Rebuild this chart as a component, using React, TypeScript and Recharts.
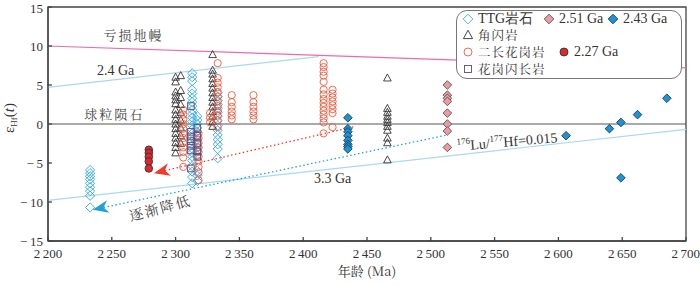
import { ScatterChart, Scatter, XAxis, YAxis, ReferenceLine, ReferenceArea, ReferenceDot, Label } from 'recharts'

// ---- data (age in Ma, εHf(t)) ----
const X_TICKS = [2200, 2250, 2300, 2350, 2400, 2450, 2500, 2550, 2600, 2650, 2700]
const Y_TICKS = [-15, -10, -5, 0, 5, 10, 15]

// TTG rocks (open blue diamonds)
const TTG_2233 = [-5.9, -6.3, -6.7, -7.1, -7.6, -8.1, -8.6, -9.2, -10.7]
const TTG_2313 = [6.5, 6.0, 5.5, 4.4, 3.9, 3.3, 2.8, 2.3, 1.8, 1.3, 0.8, 0.3, -0.2, -0.7, -1.2, -1.7, -2.2, -2.7, -3.2, -3.7, -4.2, -4.7, -5.4, -6.1, -6.8, -7.6]
const TTG_2317 = [1.0, 0.5, 0, -0.5, -1.0, -1.5, -2.0, -2.5, -3.0, -3.5, -4.0, -6.0, -6.6, -7.3]
const TTG_2333 = [4.0, 3.5, 3.0, 2.5, 2.0, 1.5, 1.0, 0.4, -0.2, -0.8, -1.4, -2.0, -2.6, -3.2, -4.4]

// amphibolite (open triangles)
const AMP_2300 = [6.0, 5.4, 4.1, 3.6, 3.1, 2.6, 1.8, 1.2, 0.6, 0, -0.6, -1.2, -1.8, -2.4, -3.0, -3.7]
const AMP_2304 = [6.2, 4.3, 3.4, 2.5, 1.5, 0.5, -0.5, -1.5, -2.5]
const AMP_2329 = [8.9, 6.9, 6.4, 5.8, 5.2, 4.6, 4.0, 3.4, 2.8, 2.2, 1.6, 1.0, 0.3, -0.3]
const AMP_2466 = [5.9, 2.0, 1.5, 1.0, 0.6, 0.2, -0.3, -0.8, -1.8, -2.4, -4.6]

// monzogranite (open red circles)
const MZG_2306 = [1.8, 1.2, 0.6, 0, -0.6, -1.2, -1.8, -2.4, -3.0, -3.6, -4.3, -5.5]
const MZG_2318 = [-1.2, -1.8, -2.4, -3.0, -3.6, -4.2, -4.8, -5.5, -6.2, -7.2]
const MZG_2327 = [1.4, 0.8, 0.2]
const MZG_2333 = [7.8, 5.9, 5.3, 4.7, 4.1, 3.5, 2.9, 2.3, 1.7, 1.1, 0.5, -0.4]
const MZG_2344 = [3.7, 2.8, 2.2, 1.6, 1.1, 0.6]
const MZG_2361 = [3.7, 2.8, 2.2, 1.6, 1.1, 0.6]
const MZG_2416 = [7.8, 7.3, 6.7, 6.2, 5.4, 4.4, 3.8, 3.2, 2.7, 2.2, 1.7, 1.2, 0.7, 0.2, -1.2]
const MZG_2423 = [4.4, 3.9, 3.4, 2.9, 2.4, 1.9, 1.4, -0.4]

// granodiorite (open squares)
const GD_2312 = [2.3, -1.0, -1.6, -2.2, -2.8, -3.4, -5.7]
const GD_2317 = [-0.5, -1.5, -2.5, -3.5, -4.2]

// dated samples (filled)
const S227_2279 = [-3.3, -3.7, -4.2, -4.8, -5.7]
const S251_2513 = [5.0, 3.7, 3.3, 2.9, 1.4, 0.0, -0.9, -3.0]
const S243_2435 = [0.8, -0.6, -1.0, -1.5, -2.1, -2.6, -2.9, -3.2]
const S243_AGES = [2606, 2640, 2649, 2649, 2662, 2685]
const S243_VALS = [-1.5, -0.6, 0.2, -6.9, 1.2, 3.3]

// reference lines
const DM_LINE = [{ age: 2200, e: 10 }, { age: 2700, e: 7.2 }]
const GA24_LINE = [{ age: 2200, e: 4.7 }, { age: 2412, e: 8.65 }]
const GA33_LINE = [{ age: 2200, e: -9.8 }, { age: 2700, e: -0.7 }]
const RED_TREND = [{ age: 2283, e: -6.3 }, { age: 2441, e: -0.3 }]
const BLUE_TREND = [{ age: 2235, e: -11.0 }, { age: 2513, e: -1.4 }]

const col = (age: number, vals: number[]) => vals.map((e) => ({ age, e }))

const TTG = [...col(2233, TTG_2233), ...col(2313, TTG_2313), ...col(2317, TTG_2317), ...col(2333, TTG_2333)]
const AMP = [...col(2300, AMP_2300), ...col(2304, AMP_2304), ...col(2329, AMP_2329), ...col(2466, AMP_2466)]
const MZG = [
  ...col(2306, MZG_2306), ...col(2318, MZG_2318), ...col(2327, MZG_2327), ...col(2333, MZG_2333),
  ...col(2344, MZG_2344), ...col(2361, MZG_2361), ...col(2416, MZG_2416), ...col(2423, MZG_2423),
]
const GD = [...col(2312, GD_2312), ...col(2317, GD_2317)]
const S227 = col(2279, S227_2279)
const S251 = col(2513, S251_2513)
const S243 = [...col(2435, S243_2435), ...S243_AGES.map((age, i) => ({ age, e: S243_VALS[i] }))]

const SERIF = "'Liberation Serif', 'Times New Roman', serif"
const CJK = "'Noto Serif CJK SC', 'Noto Sans CJK SC', serif"

const C_TTG = '#2fa8e0'
const C_MZG = '#ee5a3c'
const C_GD = '#5b4a80'
const C_LINE_BLUE = '#a9d8f2'

type Kind = 'diamond' | 'triangle' | 'circle' | 'square'

function mark(kind: Kind, stroke: string, fill: string, s: number) {
  return (p: any) => {
    const { cx, cy } = p
    if (cx == null || cy == null) return <g />
    const common = { stroke, fill, strokeWidth: 0.9 }
    if (kind === 'diamond')
      return <polygon {...common} points={`${cx},${cy - s} ${cx + s},${cy} ${cx},${cy + s} ${cx - s},${cy}`} />
    if (kind === 'triangle')
      return <polygon {...common} points={`${cx},${cy - s} ${cx + s * 0.95},${cy + s * 0.75} ${cx - s * 0.95},${cy + s * 0.75}`} />
    if (kind === 'square') return <rect {...common} x={cx - s} y={cy - s} width={2 * s} height={2 * s} />
    return <circle {...common} cx={cx} cy={cy} r={s} />
  }
}

// dotted trend line with an arrow head at its first point
function arrowLine(color: string) {
  return (p: any) => {
    const { x1, y1, x2, y2 } = p
    if (x1 == null) return <g />
    const a = Math.atan2(y1 - y2, x1 - x2)
    const L = 16
    const W = 6.5
    const bx = x1 - L * Math.cos(a)
    const by = y1 - L * Math.sin(a)
    const nx = x1 - L * 0.7 * Math.cos(a)
    const ny = y1 - L * 0.7 * Math.sin(a)
    const px = -Math.sin(a) * W
    const py = Math.cos(a) * W
    return (
      <g>
        <line x1={nx} y1={ny} x2={x2} y2={y2} stroke={color} strokeWidth={1.3} strokeDasharray="1.5 2.5" />
        <polygon points={`${x1},${y1} ${bx + px},${by + py} ${nx},${ny} ${bx - px},${by - py}`} fill={color} />
      </g>
    )
  }
}

function note(content: (x: number, y: number) => any) {
  return (p: any) => (p.cx == null ? <g /> : content(p.cx, p.cy))
}

const annStyle = { fontSize: 13, fill: '#444' }

function YLabel(props: any) {
  const vb = props.viewBox || { x: 0, y: 0, height: 0 }
  const x = 14
  const y = vb.y + vb.height / 2 - 6
  return (
    <text transform={`translate(${x},${y}) rotate(-90)`} textAnchor="middle" fontFamily={SERIF} fontSize={15} fill="#333">
      ε<tspan fontSize={9} dy={3}>Hf</tspan>
      <tspan dy={-3}>(</tspan>
      <tspan fontStyle="italic">t</tspan>
      <tspan>)</tspan>
    </text>
  )
}

const fmtX = (v: number) => `${Math.floor(v / 1000)}\u2009${String(v % 1000).padStart(3, '0')}`
const fmtY = (v: number) => (v < 0 ? `\u2212\u2009${-v}` : `${v}`)

function Sym({ kind, stroke, fill }: { kind: Kind; stroke: string; fill: string }) {
  return (
    <svg width={12} height={12} style={{ display: 'block' }}>
      {mark(kind, stroke, fill, kind === 'circle' ? 4 : kind === 'square' ? 3.5 : 4.8)({ cx: 6, cy: 6 })}
    </svg>
  )
}

function LegendItem({ left, top, kind, stroke, fill, text, cjk }: any) {
  return (
    <div style={{ position: 'absolute', left, top, height: 14, display: 'flex', alignItems: 'center', gap: 4 }}>
      <Sym kind={kind} stroke={stroke} fill={fill} />
      <span style={{ fontFamily: cjk ? CJK : SERIF, fontSize: cjk ? 12.5 : 14, color: '#333', letterSpacing: cjk ? 1 : 0, whiteSpace: 'nowrap', lineHeight: '14px' }}>
        {text}
      </span>
    </div>
  )
}

export default function App() {
  return (
    <div style={{ position: 'relative', width: 700, height: 285, background: '#fff' }}>
      <style>{'body{margin:0}'}</style>
      <ScatterChart width={700} height={285} margin={{ top: 7, right: 14, bottom: 14, left: 0 }}>
        <XAxis
          type="number"
          dataKey="age"
          domain={[2200, 2700]}
          ticks={X_TICKS}
          tickFormatter={fmtX}
          tickSize={-4}
          tickMargin={12}
          height={30}
          allowDataOverflow
          tick={{ fontSize: 13, fill: '#333', fontFamily: SERIF }}
          stroke="#444"
          strokeWidth={1.3}
        >
          <Label value="年龄 (Ma)" position="bottom" offset={-4} style={{ fontSize: 13, fill: '#333', fontFamily: CJK }} />
        </XAxis>
        <YAxis
          type="number"
          dataKey="e"
          domain={[-15, 15]}
          ticks={Y_TICKS}
          tickFormatter={fmtY}
          tickSize={-4}
          tickMargin={9}
          width={48}
          allowDataOverflow
          tick={{ fontSize: 13, fill: '#333', fontFamily: SERIF }}
          stroke="#444"
          strokeWidth={1.3}
        >
          <Label content={<YLabel />} />
        </YAxis>
        <ReferenceArea x1={2200} x2={2700} y1={-15} y2={15} fill="none" stroke="#444" strokeWidth={1.3} />

        <ReferenceLine y={0} stroke="#555" strokeWidth={1} />
        <ReferenceLine segment={[{ x: DM_LINE[0].age, y: DM_LINE[0].e }, { x: DM_LINE[1].age, y: DM_LINE[1].e }]} stroke="#ef6aa5" strokeWidth={1.2} />
        <ReferenceLine segment={[{ x: GA24_LINE[0].age, y: GA24_LINE[0].e }, { x: GA24_LINE[1].age, y: GA24_LINE[1].e }]} stroke={C_LINE_BLUE} strokeWidth={1.2} />
        <ReferenceLine segment={[{ x: GA33_LINE[0].age, y: GA33_LINE[0].e }, { x: GA33_LINE[1].age, y: GA33_LINE[1].e }]} stroke={C_LINE_BLUE} strokeWidth={1.2} />
        <ReferenceLine segment={[{ x: RED_TREND[0].age, y: RED_TREND[0].e }, { x: RED_TREND[1].age, y: RED_TREND[1].e }]} shape={arrowLine('#ee3b2c')} />
        <ReferenceLine segment={[{ x: BLUE_TREND[0].age, y: BLUE_TREND[0].e }, { x: BLUE_TREND[1].age, y: BLUE_TREND[1].e }]} shape={arrowLine('#1ea0dc')} />

        <ReferenceDot x={2267} y={11.4} r={0} shape={note((x, y) => (
          <text x={x} y={y} dy={5} textAnchor="middle" fontFamily={CJK} letterSpacing={2} {...annStyle}>亏损地幔</text>
        ))} />
        <ReferenceDot x={2253} y={6.9} r={0} shape={note((x, y) => (
          <text x={x} y={y} dy={5} textAnchor="middle" fontFamily={SERIF} fontSize={14} fill="#333">2.4 Ga</text>
        ))} />
        <ReferenceDot x={2252} y={1.3} r={0} shape={note((x, y) => (
          <text x={x} y={y} dy={5} textAnchor="middle" fontFamily={CJK} letterSpacing={2} {...annStyle}>球粒陨石</text>
        ))} />
        <ReferenceDot x={2423} y={-6.9} r={0} shape={note((x, y) => (
          <text x={x} y={y} dy={5} textAnchor="middle" fontFamily={SERIF} fontSize={14} fill="#333">3.3 Ga</text>
        ))} />
        <ReferenceDot x={2520.5} y={-2.8} r={0} shape={note((x, y) => (
          <text transform={`translate(${x},${y}) rotate(-5)`} y={5} fontFamily={SERIF} fontSize={14} fill="#333">
            <tspan fontSize={9} dy={-6}>176</tspan>
            <tspan dy={6}>Lu/</tspan>
            <tspan fontSize={9} dy={-6}>177</tspan>
            <tspan dy={6}>Hf=0.015</tspan>
          </text>
        ))} />
        <ReferenceDot x={2288} y={-10.8} r={0} shape={note((x, y) => (
          <text transform={`translate(${x},${y}) rotate(-15)`} dy={5} textAnchor="middle" fontFamily={CJK} letterSpacing={2} fontSize={14} fill="#444">逐渐降低</text>
        ))} />

        <Scatter data={TTG} shape={mark('diamond', C_TTG, 'none', 4.6)} isAnimationActive={false} />
        <Scatter data={AMP} shape={mark('triangle', '#333', 'none', 4)} isAnimationActive={false} />
        <Scatter data={MZG} shape={mark('circle', C_MZG, 'none', 3.6)} isAnimationActive={false} />
        <Scatter data={GD} shape={mark('square', C_GD, 'none', 3.3)} isAnimationActive={false} />
        <Scatter data={S227} shape={mark('circle', '#333', '#e0262a', 3.8)} isAnimationActive={false} />
        <Scatter data={S251} shape={mark('diamond', '#555', '#ee9aa0', 4.3)} isAnimationActive={false} />
        <Scatter data={S243} shape={mark('diamond', '#1d3a55', '#1c93d4', 4.3)} isAnimationActive={false} />
      </ScatterChart>

      <div style={{ position: 'absolute', left: 456, top: 10, width: 226, height: 69, border: '1px solid #777', borderRadius: 11, background: '#fff', boxSizing: 'border-box' }} />
      <LegendItem left={462} top={12} kind="diamond" stroke={C_TTG} fill="none" text="TTG岩石" />
      <LegendItem left={543} top={12} kind="diamond" stroke="#555" fill="#ee9aa0" text="2.51 Ga" />
      <LegendItem left={607} top={12} kind="diamond" stroke="#1d3a55" fill="#1c93d4" text="2.43 Ga" />
      <LegendItem left={462} top={28} kind="triangle" stroke="#333" fill="none" text="角闪岩" cjk />
      <LegendItem left={462} top={45} kind="circle" stroke={C_MZG} fill="none" text="二长花岗岩" cjk />
      <LegendItem left={558} top={45} kind="circle" stroke="#333" fill="#e0262a" text="2.27 Ga" />
      <LegendItem left={462} top={62} kind="square" stroke={C_GD} fill="none" text="花岗闪长岩" cjk />
    </div>
  )
}
